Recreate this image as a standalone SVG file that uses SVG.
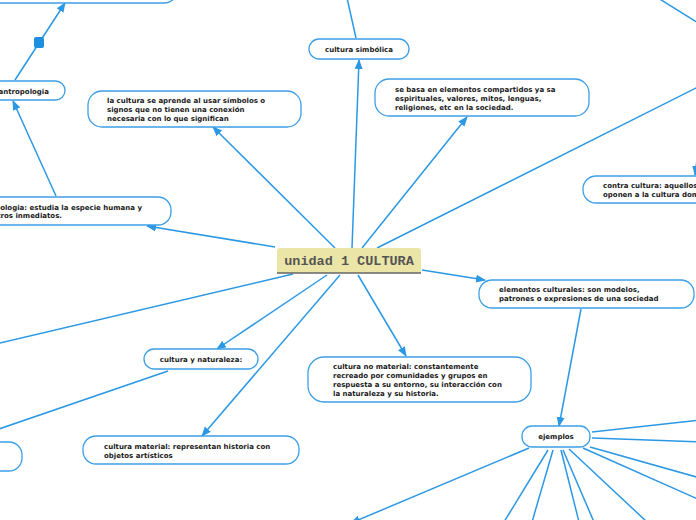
<svg xmlns="http://www.w3.org/2000/svg" width="696" height="520" viewBox="0 0 696 520">
<defs>
<style>
.n{fill:#ffffff;stroke:#3d9fe6;stroke-width:1.3}
.t{font-family:"DejaVu Sans",Verdana,sans-serif;font-weight:bold;font-size:7px;fill:#1a1a1a}
.c{fill:none;stroke:#2b98e4;stroke-width:1.5}
.ca{fill:none;stroke:#2b98e4;stroke-width:1.5;marker-end:url(#ah)}
</style>
<marker id="ah" markerUnits="userSpaceOnUse" markerWidth="10" markerHeight="10" viewBox="0 0 10 10" refX="9" refY="5" orient="auto">
<path d="M0,1 L10,5 L0,9 Z" fill="#2b98e4"/>
</marker>
</defs>
<rect width="696" height="520" fill="#ffffff"/>
<g id="connectors">
<line class="ca" x1="335" y1="248" x2="213" y2="127"/>
<line class="ca" x1="352" y1="248" x2="359" y2="60"/>
<line class="ca" x1="362" y1="248" x2="467" y2="117"/>
<line class="c" x1="377" y1="248" x2="700" y2="86"/>
<line class="ca" x1="275" y1="247" x2="147" y2="226"/>
<line class="c" x1="293" y1="274" x2="-4" y2="344"/>
<line class="ca" x1="327" y1="275" x2="217" y2="349"/>
<line class="ca" x1="340" y1="275" x2="202" y2="436"/>
<line class="ca" x1="358" y1="275" x2="406" y2="356"/>
<line class="ca" x1="422" y1="270" x2="485" y2="280"/>
<line class="ca" x1="581" y1="309" x2="559" y2="426"/>
<line class="c" x1="168" y1="371" x2="-4" y2="430"/>
<line class="ca" x1="56" y1="196" x2="13" y2="101"/>
<polyline class="ca" points="15,80 39,43 65,3"/>
<line class="c" x1="356" y1="38" x2="347" y2="-2"/>
<line class="c" x1="658" y1="-2" x2="700" y2="24"/>
<line class="ca" x1="697" y1="160" x2="695" y2="175"/>
<line class="c" x1="592" y1="432" x2="700" y2="420"/>
<line class="c" x1="592" y1="438" x2="700" y2="442"/>
<line class="c" x1="590" y1="447" x2="700" y2="478"/>
<line class="c" x1="583" y1="448" x2="700" y2="500"/>
<line class="c" x1="569" y1="449" x2="647" y2="522"/>
<line class="c" x1="563" y1="450" x2="594" y2="522"/>
<line class="c" x1="561" y1="450" x2="579" y2="522"/>
<line class="c" x1="553" y1="450" x2="532" y2="522"/>
<line class="c" x1="548" y1="450" x2="504" y2="522"/>
<line class="ca" x1="529" y1="448" x2="351" y2="523"/>
<rect x="34" y="37" width="10" height="11" rx="2" fill="#1d8fdf"/>
</g>
<g id="center">
<path d="M277,273 L277,251 Q277,248 280,248 L418,248 Q421,248 421,251 L421,273 Z" fill="#ebe5a7"/>
<line x1="277" y1="273" x2="421" y2="273" stroke="#666666" stroke-width="1.5"/>
<text x="349" y="265" text-anchor="middle" font-family="Liberation Mono, monospace" font-weight="bold" font-size="13.5" fill="#555555">unidad 1 CULTURA</text>
</g>
<g id="n-top-left">
<rect class="n" x="-40" y="-30" width="218" height="33" rx="14"/>
</g>
<g id="n-antropologia">
<rect class="n" x="-30" y="81" width="95" height="19" rx="9.5"/>
<text class="t" x="49" y="93.5" text-anchor="end">antropologia</text>
</g>
<g id="n-aprende">
<rect class="n" x="88" y="91" width="213" height="36" rx="14"/>
<text class="t"><tspan x="107" y="102.5">la cultura se aprende al usar símbolos o</tspan><tspan x="107" y="111.5">signos que no tienen una conexión</tspan><tspan x="107" y="120.5">necesaria con lo que significan</tspan></text>
</g>
<g id="n-simbolica">
<rect class="n" x="309" y="39" width="100" height="20" rx="10"/>
<text class="t" x="359" y="51.5" text-anchor="middle">cultura simbólica</text>
</g>
<g id="n-basa">
<rect class="n" x="375" y="79" width="214" height="37" rx="14"/>
<text class="t"><tspan x="395" y="91.5">se basa en elementos compartidos ya sa</tspan><tspan x="395" y="100.5">espirituales, valores, mitos, lenguas,</tspan><tspan x="395" y="109.5">religiones, etc en la sociedad.</tspan></text>
</g>
<g id="n-estudia">
<rect class="n" x="-40" y="197" width="211" height="28" rx="13"/>
<text class="t"><tspan x="142" y="209.5" text-anchor="end">antropologia: estudia la especie humana y</tspan><tspan x="62" y="217.5" text-anchor="end">ancestros inmediatos.</tspan></text>
</g>
<g id="n-contra">
<rect class="n" x="583" y="176" width="150" height="27" rx="13"/>
<text class="t"><tspan x="603" y="188">contra cultura: aquellos que se</tspan><tspan x="603" y="197">oponen a la cultura dominante</tspan></text>
</g>
<g id="n-elementos">
<rect class="n" x="479" y="280" width="215" height="28" rx="13"/>
<text class="t"><tspan x="499" y="292">elementos culturales: son modelos,</tspan><tspan x="499" y="301">patrones o expresiones de una sociedad</tspan></text>
</g>
<g id="n-naturaleza">
<rect class="n" x="144" y="349" width="114" height="20" rx="10"/>
<text class="t" x="201" y="361.5" text-anchor="middle">cultura y naturaleza:</text>
</g>
<g id="n-material">
<rect class="n" x="83" y="436" width="216" height="28" rx="13"/>
<text class="t"><tspan x="104" y="449">cultura material: representan historia con</tspan><tspan x="104" y="458">objetos artísticos</tspan></text>
</g>
<g id="n-left-bottom">
<rect class="n" x="-40" y="442" width="62" height="29" rx="13"/>
</g>
<g id="n-nomaterial">
<rect class="n" x="308" y="357" width="223" height="45" rx="16"/>
<text class="t"><tspan x="333" y="368.5">cultura no material: constantemente</tspan><tspan x="333" y="377.5">recreado por comunidades y grupos en</tspan><tspan x="333" y="386.5">respuesta a su entorno, su interacción con</tspan><tspan x="333" y="395.5">la naturaleza y su historia.</tspan></text>
</g>
<g id="n-ejemplos">
<rect class="n" x="522" y="426" width="68" height="21" rx="10"/>
<text class="t" x="556" y="438.5" text-anchor="middle">ejemplos</text>
</g>
</svg>
